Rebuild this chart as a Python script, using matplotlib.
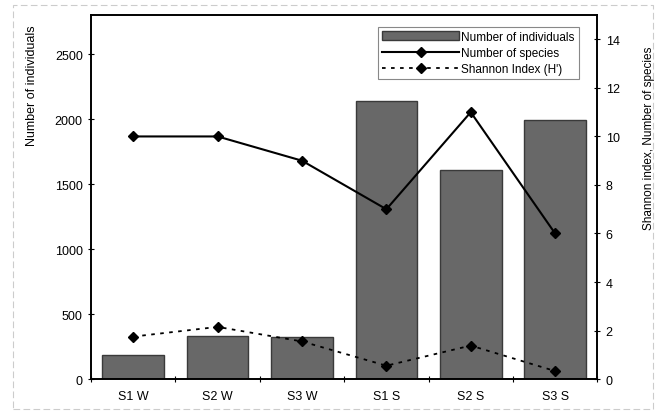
import matplotlib
matplotlib.use("Agg")
import matplotlib.pyplot as plt
import numpy as np
from matplotlib.ticker import FixedLocator

plt.rcParams['font.family'] = ['Liberation Sans', 'DejaVu Sans']

categories = ["S1 W", "S2 W", "S3 W", "S1 S", "S2 S", "S3 S"]
individuals = [185, 331, 323, 2140, 1610, 1995]
species = [10, 10, 9, 7, 11, 6]
shannon = [1.75, 2.15, 1.55, 0.55, 1.38, 0.33]
left_ticks = [0, 500, 1000, 1500, 2000, 2500]
right_ticks = [0, 2, 4, 6, 8, 10, 12, 14]

fig = plt.figure(figsize=(6.6, 4.14), dpi=100)
ax = fig.add_axes([0.138, 0.082, 0.767, 0.879])
x = np.arange(len(categories))

bars = ax.bar(x, individuals, width=0.73, color='#686868', edgecolor='#3a3a3a',
              linewidth=1.0, label='Number of individuals', zorder=2)
ax.set_xlim(-0.5, len(categories) - 0.5)
ax.set_ylim(0, 2800)
ax.set_yticks(left_ticks)
ax.set_xticks(x)
ax.set_xticklabels(categories)
ax.xaxis.set_minor_locator(FixedLocator(np.arange(-0.5, len(categories), 1.0)))
ax.tick_params(axis='x', which='major', length=0, labelsize=9, pad=8)
ax.tick_params(axis='x', which='minor', length=4, direction='inout', width=0.8)
ax.tick_params(axis='y', which='major', length=5, direction='inout', labelsize=9, width=0.8)
ax.set_ylabel('Number of individuals', fontsize=9)
ax.yaxis.set_label_coords(-0.105, 0.81)
for s in ax.spines.values():
    s.set_linewidth(1.2)

ax2 = ax.twinx()
ax2.set_ylim(0, 15)
ax2.set_yticks(right_ticks)
ax2.tick_params(axis='y', length=5, direction='inout', labelsize=9, width=0.8)
l1, = ax2.plot(x, species, color='black', linewidth=1.5, marker='D', markersize=5.5,
               label='Number of species', zorder=3)
l2, = ax2.plot(x, shannon, color='black', linewidth=1.3, linestyle=(0, (2, 3)),
               marker='D', markersize=5.5, label="Shannon Index (H')", zorder=3)
ax2.set_ylabel('Shannon index, Number of species', fontsize=8.5)
ax2.yaxis.set_label_coords(1.09, 0.665)
for s in ax2.spines.values():
    s.set_linewidth(1.2)

leg = ax2.legend([bars, l1, l2], ['Number of individuals', 'Number of species', "Shannon Index (H')"],
                 loc='upper right', bbox_to_anchor=(0.975, 0.985), fontsize=8.5,
                 frameon=True, fancybox=False, edgecolor='#888888', framealpha=1,
                 handlelength=6.5, handletextpad=0.2, borderpad=0.35, labelspacing=0.35)
leg.get_frame().set_linewidth(0.8)

fig.patches.append(plt.Rectangle((0.02, 0.01), 0.97, 0.975, transform=fig.transFigure,
                                 fill=False, edgecolor='#cccccc', linewidth=0.8,
                                 linestyle=(0, (6, 3))))

fig.savefig('out.png', dpi=100)
